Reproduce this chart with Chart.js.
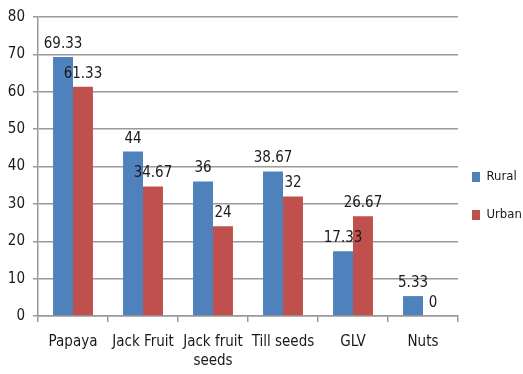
<!DOCTYPE html>
<html>
<head>
<meta charset="utf-8">
<script src="https://cdn.jsdelivr.net/npm/chart.js@4/dist/chart.umd.min.js"></script>
<style>
  html, body { margin: 0; padding: 0; background: #fff; }
  #wrap { width: 523px; height: 374px; }
</style>
</head>
<body>
<div id="wrap"><canvas id="grafico"></canvas></div>
<script>
const categorias = ['Papaya', 'Jack Fruit', ['Jack fruit', 'seeds'], 'Till seeds', 'GLV', 'Nuts'];
const valoresRural = [69.33, 44, 36, 38.67, 17.33, 5.33];
const valoresUrban = [61.33, 34.67, 24, 32, 26.67, 0];
const ticksY = [0, 10, 20, 30, 40, 50, 60, 70, 80];

const fonte = "'DejaVu Sans Condensed', 'Liberation Sans Narrow', sans-serif";
const corTexto = '#1a1a1a';

// escreve o valor em cima de cada barra
const rotulosBarras = {
  id: 'rotulosBarras',
  afterDatasetsDraw(chart) {
    const ctx = chart.ctx;
    ctx.save();
    ctx.font = '15px ' + fonte;
    ctx.fillStyle = corTexto;
    ctx.textAlign = 'center';
    ctx.textBaseline = 'alphabetic';
    chart.data.datasets.forEach((ds, i) => {
      chart.getDatasetMeta(i).data.forEach((barra, j) => {
        ctx.fillText(String(ds.data[j]), barra.x, barra.y - 9);
      });
    });
    ctx.restore();
  }
};

// legenda estreita, um pouco mais para a esquerda e para baixo
const ajusteLegenda = {
  id: 'ajusteLegenda',
  beforeUpdate(chart) {
    const lg = chart.legend;
    if (lg && !lg._ajustada) {
      const fitOriginal = lg.fit.bind(lg);
      lg.fit = function () {
        fitOriginal();
        this.width = 65;
      };
      lg._ajustada = true;
    }
  },
  afterLayout(chart) {
    const lg = chart.legend;
    if (!lg) return;
    lg.left -= 11;
    lg.top += 5;
    lg.bottom += 5;
  }
};

new Chart(document.getElementById('grafico').getContext('2d'), {
  type: 'bar',
  data: {
    labels: categorias,
    datasets: [
      { label: 'Rural', data: valoresRural, backgroundColor: '#4F81BD' },
      { label: 'Urban', data: valoresUrban, backgroundColor: '#C0504D' }
    ]
  },
  options: {
    responsive: true,
    maintainAspectRatio: false,
    animation: false,
    categoryPercentage: 0.57,
    barPercentage: 1,
    layout: { padding: { top: 8, left: 0, right: 0, bottom: 0 } },
    plugins: {
      legend: {
        position: 'right',
        labels: {
          font: { family: fonte, size: 13 },
          color: corTexto,
          boxWidth: 8,
          boxHeight: 10,
          padding: 25
        }
      },
      tooltip: { enabled: false }
    },
    scales: {
      x: {
        afterFit: escala => { escala.height = 58; },
        grid: { drawOnChartArea: false, offset: true, tickLength: 6, color: '#999', lineWidth: 1.5 },
        border: { color: '#999', width: 1.5 },
        ticks: { font: { family: fonte, size: 15, lineHeight: 1.3 }, color: corTexto, maxRotation: 0, autoSkip: false, padding: 10 }
      },
      y: {
        min: 0,
        max: 80,
        afterBuildTicks: escala => { escala.ticks = ticksY.map(v => ({ value: v })); },
        afterFit: escala => { escala.width = 38; },
        grid: { color: '#999', lineWidth: 1.5, tickLength: 5 },
        border: { color: '#999', width: 1.5 },
        ticks: { font: { family: fonte, size: 15 }, color: corTexto, padding: 8 }
      }
    }
  },
  plugins: [ajusteLegenda, rotulosBarras]
});
</script>
</body>
</html>
